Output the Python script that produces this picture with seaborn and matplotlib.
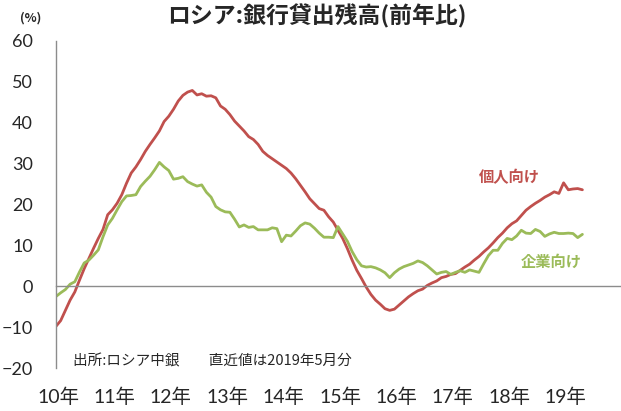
import numpy as np
import pandas as pd
import matplotlib
matplotlib.use("Agg")
import matplotlib.pyplot as plt
import seaborn as sns

# ---- data (monthly, Jan 2010 .. May 2019) ----
household = [
    -9.8, -8.4, -5.9, -3.4, -1.4, 1.5, 4.3, 6.8, 9.3, 11.7, 13.9, 17.5,
    18.7, 20.3, 22.4, 25.2, 27.7, 29.2, 31.0, 33.0, 34.7, 36.3, 38.0, 40.3,
    41.6, 43.3, 45.3, 46.7, 47.5, 47.9, 46.8, 47.1, 46.5, 46.6, 46.1, 44.1,
    43.3, 42.0, 40.4, 39.2, 38.0, 36.6, 35.9, 34.7, 33.0, 32.0, 31.2, 30.4,
    29.6, 28.8, 27.7, 26.3, 24.7, 23.1, 21.4, 20.2, 19.0, 18.6, 17.0, 15.7,
    13.7, 11.7, 9.2, 6.4, 3.9, 1.9, -0.2, -2.0, -3.4, -4.4, -5.5, -5.9,
    -5.6, -4.6, -3.6, -2.6, -1.8, -1.1, -0.7, 0.2, 0.8, 1.3, 2.1, 2.4,
    2.9, 3.1, 3.9, 4.7, 5.4, 6.4, 7.3, 8.4, 9.4, 10.6, 11.9, 13.0,
    14.3, 15.3, 16.0, 17.3, 18.6, 19.5, 20.3, 21.0, 21.8, 22.4, 23.1, 22.7,
    25.3, 23.6, 23.8, 23.9, 23.6,
]
corporate = [
    -2.5, -1.6, -0.8, 0.5, 1.1, 3.5, 5.7, 6.4, 7.6, 8.9, 12.1, 15.0,
    16.6, 18.7, 20.7, 22.1, 22.2, 22.4, 24.4, 25.7, 26.9, 28.5, 30.3, 29.2,
    28.3, 26.2, 26.4, 26.8, 25.6, 25.0, 24.5, 24.8, 23.0, 21.8, 19.5, 18.7,
    18.2, 18.1, 16.4, 14.5, 15.0, 14.4, 14.6, 13.8, 13.8, 13.8, 14.3, 14.1,
    10.9, 12.5, 12.3, 13.5, 14.8, 15.5, 15.2, 14.2, 13.0, 12.0, 12.0, 11.9,
    14.6, 12.8, 11.0, 8.5, 6.5, 5.0, 4.7, 4.8, 4.5, 4.0, 3.3, 2.1,
    3.3, 4.2, 4.8, 5.2, 5.6, 6.2, 5.8, 5.0, 4.0, 3.0, 3.4, 3.6,
    2.9, 3.4, 3.8, 3.4, 4.0, 3.7, 3.4, 5.5, 7.5, 8.8, 8.8, 10.5,
    11.7, 11.4, 12.3, 13.7, 13.0, 12.9, 13.9, 13.4, 12.2, 12.8, 13.2, 12.9,
    12.9, 13.0, 12.9, 11.9, 12.7,
]
year_labels = ["10年", "11年", "12年", "13年", "14年", "15年", "16年", "17年", "18年", "19年"]
series_names = ["個人向け", "企業向け"]
colors = ["#C0504D", "#9BBB59"]

months = np.arange(len(household))
df = pd.DataFrame({
    "month": np.concatenate([months, months]),
    "value": household + corporate,
    "series": [series_names[0]] * len(household) + [series_names[1]] * len(corporate),
})

sns.set_style("white")
plt.rcParams["font.family"] = ["Lato", "Noto Sans CJK JP", "DejaVu Sans"]

fig = plt.figure(figsize=(6.21, 4.11), dpi=100)
ax = fig.add_axes([56 / 621, 43 / 411, (620 - 56) / 621, 327 / 411])

sns.lineplot(data=df, x="month", y="value", hue="series", palette=colors,
             linewidth=2.0, legend=False, ax=ax)

ax.set_xlim(0, 120)
ax.set_ylim(-20, 60)
ax.set_xlabel("")
ax.set_ylabel("")

axis_gray = "#8C8C8C"
for s in ["top", "right"]:
    ax.spines[s].set_visible(False)
ax.spines["left"].set_color(axis_gray)
ax.spines["left"].set_linewidth(1.0)
ax.spines["bottom"].set_position(("data", 0))
ax.spines["bottom"].set_color(axis_gray)
ax.spines["bottom"].set_linewidth(1.0)

ax.set_yticks(range(-20, 61, 10))
ax.tick_params(axis="y", direction="out", length=4.5, width=1, color=axis_gray,
               labelsize=13, pad=12)
ax.set_xticks(range(0, 121, 12))
ax.set_xticklabels([])
ax.tick_params(axis="x", direction="out", length=4.5, width=1, color=axis_gray)

for i, lab in enumerate(year_labels):
    ax.annotate(lab, xy=(i * 12, -20), xytext=(1.5, -14), textcoords="offset points",
                ha="center", va="top", fontsize=14,
                family=["Lato", "Noto Sans CJK JP"], annotation_clip=False)

cjk = ["Noto Sans CJK JP", "DejaVu Sans"]
fig.text(317 / 621, 1 - 16 / 411, "ロシア:銀行貸出残高(前年比)", ha="center", va="center",
         fontsize=16.5, fontweight="bold", family=cjk)
fig.text(31 / 621, 1 - 18 / 411, "(%)", ha="center", va="center",
         fontsize=9, fontweight="bold", family=cjk)
fig.text(509 / 621, 1 - 177 / 411, "個人向け", ha="center", va="center",
         fontsize=11, fontweight="bold", color=colors[0], family=cjk)
fig.text(551 / 621, 1 - 262 / 411, "企業向け", ha="center", va="center",
         fontsize=11, fontweight="bold", color=colors[1], family=cjk)
fig.text(73 / 621, 1 - 361 / 411, "出所:ロシア中銀　　直近値は2019年5月分", ha="left", va="center",
         fontsize=10.5, family=cjk)

fig.savefig("out.png", dpi=100)
